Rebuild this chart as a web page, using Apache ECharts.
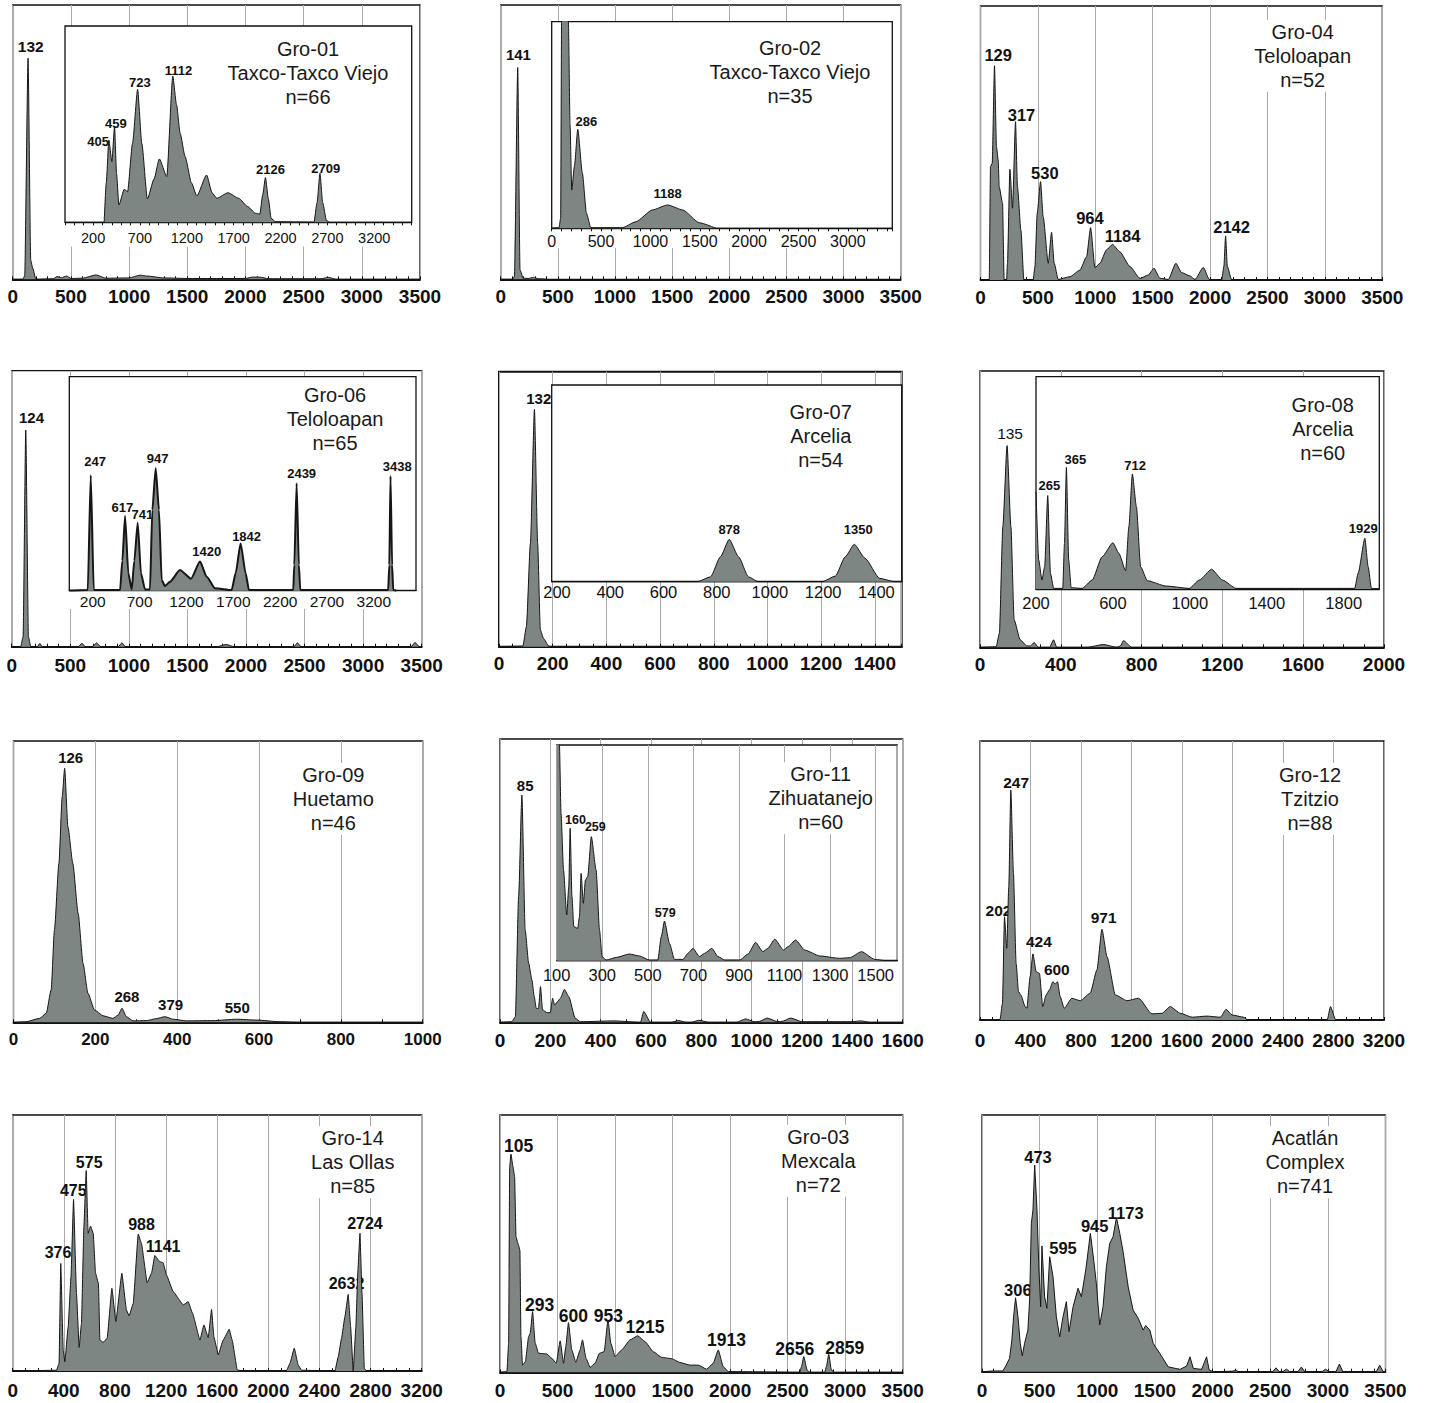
<!DOCTYPE html>
<html><head><meta charset="utf-8">
<script src="https://cdn.jsdelivr.net/npm/echarts@6/dist/echarts.min.js"></script>
<style>html,body{margin:0;padding:0;background:#fff}#c{width:1432px;height:1403px}</style>
</head><body><div id="c"></div>
<script>
// ---------------- DATA ----------------
// Gro-01
const g01Title = ['Gro-01', 'Taxco-Taxco Viejo', 'n=66'];
const g01Ticks = [0, 500, 1000, 1500, 2000, 2500, 3000, 3500];
const g01Curve = [[0,0],[86,0],[103,1.2],[132,80.6],[155,7],[172,4],[200,0],[350,0.2],[380,1],[420,0.6],[464,1.2],[500,0.3],[600,0.4],[716,1.6],[800,0.4],[1000,0.5],[1094,1.5],[1151,1.2],[1300,0.5],[1500,0.3],[2000,0.3],[2060,0.8],[2120,0.8],[2200,0.2],[2650,0.2],[2713,0.7],[2780,0],[3500,0]];
const g01Peaks = [[132,80.6,'132']];
const g01InsetTicks = [200, 700, 1200, 1700, 2200, 2700, 3200];
const g01InsetCurve = [[318,0],[340,20],[368,41.9],[400,30.9],[429,48.7],[450,25],[475,8.8],[532,16.8],[568,15.6],[620,40],[675,67.7],[720,40],[779,11.9],[850,22],[907,32.3],[986,23.3],[1050,74.5],[1090,60],[1129,45.3],[1182,33.4],[1250,20],[1307,13.4],[1411,24.1],[1470,15],[1521,12.2],[1639,15.1],[1754,12.2],[1850,8],[1932,4.6],[1979,4.2],[2010,14],[2039,22.8],[2070,12],[2100,2],[2146,0.3],[2557,0],[2590,10],[2621,25],[2650,10],[2690,1],[2718,0]];
const g01InsetPeaks = [[368,41.9,'405'],[429,48.7,'459'],[675,67.7,'723'],[1050,74.5,'1112'],[2039,22.8,'2126'],[2621,25,'2709']];
// Gro-02
const g02Title = ['Gro-02', 'Taxco-Taxco Viejo', 'n=35'];
const g02Ticks = [0, 500, 1000, 1500, 2000, 2500, 3000, 3500];
const g02Curve = [[0,0],[105,0],[120,1],[149,77.2],[169,3.4],[198,0.4],[240,0.3],[286,0.7],[330,0.2],[402,0]];
const g02Peaks = [[149,77.2,'141']];
const g02InsetTicks = [0, 500, 1000, 1500, 2000, 2500, 3000];
const g02InsetCurve = [[0,0],[74,0.3],[91,5],[100,100],[110,300],[160,300],[169,100],[186,50],[203,18.5],[230,30],[264,47.9],[311,26.6],[352,7.3],[396,0.3],[717,0.3],[852,3.2],[1021,8.9],[1174,11.3],[1326,8.9],[1495,2.7],[1664,0]];
const g02InsetPeaks = [[264,47.9,'286'],[1174,11.3,'1188']];
// Gro-04
const g04Title = ['Gro-04', 'Teloloapan', 'n=52'];
const g04Ticks = [0, 500, 1000, 1500, 2000, 2500, 3000, 3500];
const g04Curve = [[0,0],[76,0],[87,41.4],[102,42.6],[122,78.2],[139,48.7],[154,43.8],[163,34],[192,28],[206,0],[227,0],[235,6],[256,40.4],[279,26.2],[305,57.8],[322,34],[352,18.2],[378,0],[459,0],[474,4.9],[494,24.3],[523,35.9],[546,23.1],[590,6.1],[619,17.4],[642,6.1],[677,0.2],[779,1.2],[866,3.6],[924,8.5],[959,19.1],[997,4.5],[1040,6.1],[1098,11],[1150,13],[1214,10.3],[1302,4.9],[1389,0.6],[1461,1.8],[1511,4.3],[1563,0.6],[1636,0.2],[1702,6.1],[1752,2.7],[1824,1.5],[1868,0.2],[1941,4.6],[1993,0.2],[2101,0],[2120,5],[2135,16.1],[2150,5],[2188,0],[3500,0]];
const g04Peaks = [[122,78.2,'129'],[305,57.8,'317'],[523,35.9,'530'],[959,19.1,'964'],[1150,13,'1184'],[2135,16.1,'2142']];
// Gro-06
const g06Title = ['Gro-06', 'Teloloapan', 'n=65'];
const g06Ticks = [0, 500, 1000, 1500, 2000, 2500, 3000, 3500];
const g06Curve = [[0,0],[77,0],[97,3.6],[120,78.5],[143,3.6],[163,0],[220,0],[240,1.2],[260,0],[570,0],[599,1.2],[630,0],[690,0],[724,1.4],[760,0],[910,0],[941,1.4],[970,0],[1750,0],[1831,0.8],[1900,0],[2410,0],[2439,1.4],[2470,0],[3410,0],[3443,1.5],[3480,0],[3500,0]];
const g06Peaks = [[120,78.5,'124']];
const g06InsetTicks = [200, 700, 1200, 1700, 2200, 2700, 3200];
const g06InsetCurve = [[-50,0],[147,0.3],[179,54],[211,0.3],[492,0.3],[516,14],[545,34.9],[580,8.1],[616,0.6],[644,14],[680,31.8],[715,8.1],[758,0.6],[811,0.6],[836,37.7],[872,57.2],[907,37.7],[936,5],[971,2.2],[1025,4.2],[1131,9.7],[1249,5.6],[1345,13.6],[1416,6.5],[1505,1.1],[1682,0.3],[1725,8.1],[1778,22.1],[1832,8.1],[1867,0.3],[2340,0.3],[2351,12],[2376,50.2],[2400,12],[2415,0.3],[3353,0.3],[3365,12],[3378,53.6],[3395,12],[3407,0.3],[3442,0]];
const g06InsetPeaks = [[179,54,'247'],[545,34.9,'617'],[680,31.8,'741'],[872,57.2,'947'],[1345,13.6,'1420'],[1778,22.1,'1842'],[2376,50.2,'2439'],[3378,53.6,'3438']];
// Gro-07
const g07Title = ['Gro-07', 'Arcelia', 'n=54'];
const g07Ticks = [0, 200, 400, 600, 800, 1000, 1200, 1400];
const g07Curve = [[0,0],[89,0.2],[102,7.3],[117,37.6],[132,86.3],[144,37.6],[154,6.1],[166,3],[185,0.2],[200,0],[1500,0]];
const g07Peaks = [[132,86.3,'132']];
const g07InsetTicks = [200, 400, 600, 800, 1000, 1200, 1400];
const g07InsetCurve = [[180,0],[728,0],[777,2.5],[814,12.7],[847,21.5],[882,12.7],[919,2.5],[956,0],[1197,0],[1246,2.9],[1283,12.7],[1317,19],[1357,11.9],[1412,1.7],[1468,0],[1495,0]];
const g07InsetPeaks = [[847,21.5,'878'],[1317,19,'1350']];
// Gro-08
const g08Title = ['Gro-08', 'Arcelia', 'n=60'];
const g08Ticks = [0, 400, 800, 1200, 1600, 2000];
const g08Curve = [[0,0],[80,0.2],[96,5.1],[113,43.7],[134,73],[153,43.7],[169,9.9],[199,2.7],[232,0.5],[250,0.5],[268,1.7],[289,0],[345,0],[364,2.7],[380,0],[529,0],[612,1],[677,0],[695,0.5],[710,2.4],[751,0],[2000,0]];
const g08Peaks = [[134,73,'135']];
const g08InsetTicks = [200, 600, 1000, 1400, 1800];
const g08InsetCurve = [[200,45.8],[214,13.7],[231,4.2],[245,10.5],[261,44],[275,7.4],[292,0.3],[339,0.3],[348,21.5],[358,57.3],[370,13.7],[383,0.6],[440,0.3],[492,4.2],[544,15.2],[600,21.8],[631,16.8],[666,8.6],[683,29.4],[701,54.2],[722,38.8],[744,10.5],[779,3.9],[875,1.4],[997,0.3],[1049,4.2],[1113,9.3],[1170,4.2],[1240,0.3],[1857,0.3],[1875,7.4],[1910,23.9],[1927,10.5],[1944,0.3],[1985,0]];
const g08InsetPeaks = [[261,44,'265'],[358,57.3,'365'],[701,54.2,'712'],[1910,23.9,'1929']];
// Gro-09
const g09Title = ['Gro-09', 'Huetamo', 'n=46'];
const g09Ticks = [0, 200, 400, 600, 800, 1000];
const g09Curve = [[0,0],[31,0.2],[64,1.4],[80,3.2],[92,11.5],[100,32.8],[111,56.5],[119,80.2],[125,90.3],[133,69.5],[145,56.5],[158,38.7],[170,20.9],[182,10.3],[198,4.4],[219,2.3],[243,1.4],[256,2.6],[265,5],[276,2],[292,0.5],[325,0.6],[349,1.3],[370,2],[390,1.1],[423,0.5],[488,0.6],[545,1.1],[594,0.8],[651,0.2],[700,0],[1000,0]];
const g09Peaks = [[125,90.3,'126'],[265,5,'268'],[370,2,'379'],[545,1.1,'550']];
// Gro-11
const g11Title = ['Gro-11', 'Zihuatanejo', 'n=60'];
const g11Ticks = [0, 200, 400, 600, 800, 1000, 1200, 1400, 1600];
const g11Curve = [[0,0],[47,0.2],[61,2],[74,44.4],[87,80.2],[100,32.6],[114,20.8],[127,14.9],[136,9.1],[144,4.9],[153,4.9],[161,12.6],[169,4.4],[187,3.4],[200,3.4],[209,8.5],[217,6.1],[229,7.3],[240,8.5],[256,11.6],[273,9.1],[299,1.4],[319,0.2],[452,0.5],[558,0],[571,3.8],[598,0],[680,0],[710,0.6],[740,0],[760,0],[790,0.7],[830,0],[940,0],[976,1.2],[1010,0.2],[1030,0.3],[1062,1.5],[1100,0.3],[1120,0.3],[1155,1.5],[1200,0.2],[1400,0.2],[1433,0.5],[1470,0],[1600,0]];
const g11Peaks = [[87,80.2,'85']];
const g11InsetTicks = [100, 300, 500, 700, 900, 1100, 1300, 1500];
const g11InsetCurve = [[100,130],[112,100],[119,68.3],[130,42],[144,21.2],[153,34.3],[159,61.4],[167,29.7],[175,15.8],[192,15],[200,20.4],[207,40.5],[217,26.6],[226,37.4],[236,38.9],[252,57.5],[273,42],[288,14.2],[299,1.9],[317,0.3],[361,1.5],[419,3.1],[463,2.2],[507,0.3],[544,0.3],[559,11.1],[573,18.4],[595,8],[617,0.6],[654,0.6],[676,3.4],[698,5.7],[727,1.9],[749,3.4],[781,5.7],[808,1.9],[837,0.3],[903,0.3],[940,3.1],[973,8.5],[1005,4.2],[1027,5.7],[1057,10],[1096,4.9],[1115,6.5],[1149,9.6],[1189,4.9],[1255,2.2],[1342,1.1],[1386,1.4],[1438,4.2],[1496,0.6],[1548,0],[1595,0]];
const g11InsetPeaks = [[159,61.4,'160'],[252,57.5,'259'],[573,18.4,'579']];
// Gro-12
const g12Title = ['Gro-12', 'Tzitzio', 'n=88'];
const g12Ticks = [0, 400, 800, 1200, 1600, 2000, 2400, 2800, 3200];
const g12Curve = [[0,0],[159,0.2],[178,6],[194,37],[212,25.7],[228,47.8],[244,82.4],[265,52.6],[286,20.3],[305,10.2],[323,9],[358,4.8],[371,4.2],[397,15.5],[419,23.7],[445,17.3],[471,16.7],[497,4.8],[524,9],[550,10.8],[577,13.7],[595,12.9],[614,13.7],[635,8.4],[667,4.2],[728,7.8],[794,6.9],[873,9.6],[926,17.9],[966,32.5],[1006,22.7],[1072,9],[1164,6.9],[1256,7.8],[1362,2.2],[1441,2.4],[1507,4.8],[1587,2.4],[1680,1],[1798,1.4],[1904,1],[1949,3.8],[1997,1.8],[2089,1],[2121,0],[2750,0],[2776,4.8],[2816,0.2],[2840,0],[3200,0]];
const g12Peaks = [[194,37,'202'],[244,82.4,'247'],[419,23.7,'424'],[595,12.9,'600'],[966,32.5,'971']];
// Gro-14
const g14Title = ['Gro-14', 'Las Ollas', 'n=85'];
const g14Ticks = [0, 400, 800, 1200, 1600, 2000, 2400, 2800, 3200];
const g14Curve = [[0,0],[343,0.3],[363,3],[376,42],[395,8.2],[408,3.6],[434,17.3],[456,36.8],[476,67],[499,30.3],[520,9.2],[538,18.6],[557,56.4],[575,78.3],[590,53.8],[609,56.6],[630,53.8],[648,38.2],[671,34.2],[682,12.1],[708,11.2],[739,12.8],[776,32.3],[807,19.3],[854,38.2],[890,23.8],[911,21.5],[943,26.4],[982,53.5],[1007,49.9],[1052,34.5],[1086,38.2],[1112,45.1],[1151,42.7],[1177,42.3],[1203,37.5],[1256,31],[1334,25.8],[1373,27.1],[1407,22.5],[1465,12.1],[1496,18],[1530,13],[1556,24.1],[1574,13.4],[1608,6.3],[1647,12.1],[1694,16.3],[1717,12.1],[1757,0.4],[1804,0],[2143,0.2],[2169,3],[2203,8.9],[2234,2.3],[2260,0.3],[2521,0],[2547,5.6],[2573,12.8],[2599,21.2],[2625,29.9],[2644,17.3],[2664,0],[2685,17.3],[2701,39.5],[2717,53.8],[2733,30.3],[2751,1],[2769,0],[3200,0]];
const g14Peaks = [[376,42,'376'],[476,67,'475'],[575,78.3,'575'],[982,53.5,'988'],[1112,45.1,'1141'],[2625,29.9,'2632'],[2717,53.8,'2724']];
// Gro-03
const g03Title = ['Gro-03', 'Mexcala', 'n=72'];
const g03Ticks = [0, 500, 1000, 1500, 2000, 2500, 3000, 3500];
const g03Curve = [[0,0],[60,0.3],[75,11.3],[84,79.9],[95,84.8],[113,79.9],[127,76],[139,52.7],[156,50.1],[173,47.5],[182,13.9],[196,2.8],[220,4.1],[249,13.9],[263,15.2],[283,23.6],[306,11.3],[335,7.4],[408,7.1],[451,5.4],[489,3.5],[523,12.2],[552,3.5],[572,10],[595,19.3],[624,8.7],[659,3.9],[696,8.7],[717,12.6],[748,5.4],[783,1.9],[826,3.5],[864,7.4],[905,8],[939,20.3],[963,11.3],[1000,6.1],[1058,8.7],[1130,12.6],[1197,14.2],[1261,11.9],[1333,8],[1405,5.8],[1492,5.3],[1564,3.8],[1651,2.8],[1723,2.8],[1796,1.2],[1853,3.5],[1897,8.7],[1940,2.2],[1984,0.3],[2605,0],[2620,2.2],[2640,6.1],[2669,0.9],[2692,0],[2822,0],[2837,2.2],[2857,7],[2880,0.9],[2909,0],[3500,0]];
const g03Peaks = [[95,84.8,'105'],[283,23.6,'293'],[595,19.3,'600'],[939,20.3,'953'],[1197,14.2,'1215'],[1897,8.7,'1913'],[2640,6.1,'2656'],[2857,7,'2859']];
// Acatlán Complex
const acTitle = ['Acatlán', 'Complex', 'n=741'];
const acTicks = [0, 500, 1000, 1500, 2000, 2500, 3000, 3500];
const acCurve = [[0,0],[100,0.3],[181,0.3],[210,2.6],[239,5.2],[259,12.3],[274,21.4],[291,28.8],[312,21.4],[332,11],[349,6.2],[369,11],[398,16.2],[413,27.9],[428,57.8],[442,63],[457,80.5],[477,63],[494,39.6],[509,25.3],[520,49],[543,29.2],[563,24.7],[587,44.8],[616,37],[645,21.4],[674,13.6],[703,21.4],[732,27.3],[755,15.6],[790,25.3],[833,32.5],[862,29.2],[900,39.6],[940,53.9],[969,43.5],[992,34.4],[1021,18.2],[1050,25.3],[1079,40.9],[1108,50],[1137,52.6],[1166,60],[1195,53.9],[1224,46.8],[1268,33.1],[1311,24],[1355,20.8],[1398,16.2],[1420,18],[1456,16.2],[1485,11],[1543,7.1],[1615,1.9],[1717,0.9],[1775,2.2],[1804,5.8],[1833,1.3],[1905,0.9],[1948,5.8],[1971,0.6],[2006,0],[2170,0.2],[2200,0.5],[2230,0],[2520,0],[2550,1.5],[2580,0],[2610,0],[2640,1],[2670,0],[2740,0],[2770,1.8],[2800,0],[2950,0],[2980,1],[3010,0],[3070,0],[3100,3],[3130,0],[3420,0],[3450,2.5],[3480,0],[3500,0]];
const acPeaks = [[291,28.8,'306'],[457,80.5,'473'],[587,44.8,'595'],[940,53.9,'945'],[1166,60,'1173']];

// ---------------- STYLE (label pixel nudges, layout) ----------------
const INK = '#111111', LINE = '#161616', FILL = '#7e8683', GRIDC = '#aaaaaa';
const FONT = '"Liberation Sans", Arial, Helvetica, sans-serif';
const NARROW = '"Liberation Sans Narrow", "Liberation Sans", Arial, sans-serif';

const panels = [
  {box:[12.7,5,420,279.3], min:0,max:3500,step:500,minor:5, ticks:g01Ticks, curve:g01Curve, peaks:g01Peaks,
   nudge:[[2.7,-11.7]], peakFont:15.5, margin:8, title:g01Title, tpos:[308,49],
   inset:{box:[65,26,411.7,222.3], min:-100,max:3600,step:100, ticks:g01InsetTicks, tickMarks:true, split:false,
     curve:g01InsetCurve, peaks:g01InsetPeaks, nudge:[[-10.7,1],[1.3,-3.5],[2.3,-7],[5.7,-5.3],[5,-7.7],[5.7,-4.3]],
     peakFont:13, labelFont:14.5, margin:8, mask:246.5}},
  {box:[500.7,5,900.7,279.3], min:0,max:3500,step:500,minor:5, ticks:g02Ticks, curve:g02Curve, peaks:g02Peaks,
   nudge:[[0.7,-13.3]], peakFont:15, margin:8, title:g02Title, tpos:[790,47.7],
   inset:{box:[551.7,21.7,892.3,228.3], min:0,max:3450,step:100, ticks:g02InsetTicks, tickMarks:true, split:false,
     curve:g02InsetCurve, peaks:g02InsetPeaks, nudge:[[8.7,-7.7],[0,-11.7]], peakFont:13, labelFont:16, margin:5, mask:248}},
  {box:[980.5,6,1382.3,280], min:0,max:3500,step:500,minor:5, ticks:g04Ticks, curve:g04Curve, peaks:g04Peaks,
   nudge:[[3.7,-10.7],[6,-6.7],[4.3,-9],[-0.7,-9.3],[10,-8.7],[6,-9.3]], peakFont:16.5, margin:8, title:g04Title, tpos:[1302.7,31.7]},
  {box:[11.7,370.7,421.7,646.7], min:0,max:3500,step:500,minor:5, ticks:g06Ticks, curve:g06Curve, peaks:g06Peaks,
   nudge:[[5.7,-12.7]], peakFont:15, margin:9, title:g06Title, tpos:[335,395],
   inset:{box:[69.3,376.7,416,590.7], min:-50,max:3650,step:50, ticks:g06InsetTicks, tickMarks:false, split:false, lineWidth:2,
     curve:g06InsetCurve, peaks:g06InsetPeaks, nudge:[[4.3,-14],[-2.7,-8.3],[4.7,-7.7],[2,-9.3],[6.7,-10],[6,-6.7],[5,-10],[6.7,-9.3]],
     peakFont:13, labelFont:15.5, margin:3, mask:609}},
  {box:[499,371.7,901.7,646.7], min:0,max:1500,step:200,minor:4, ticks:g07Ticks, curve:g07Curve, peaks:g07Peaks, border:2,
   nudge:[[4.3,-11]], peakFont:15, margin:7, title:g07Title, tpos:[820.7,411.7],
   inset:{box:[551.7,385,901.7,581.7], min:180,max:1495,step:20, ticks:g07InsetTicks, tickMarks:false, split:false,
     curve:g07InsetCurve, peaks:g07InsetPeaks, nudge:[[0,-10.3],[4,-15.3]], peakFont:13, labelFont:16.5, margin:2}},
  {box:[980,371,1384,647.3], min:0,max:2000,step:400,minor:4, ticks:g08Ticks, curve:g08Curve, peaks:g08Peaks,
   nudge:[[3,-11.7]], peakFont:15.5, peakWeight:'normal', margin:8, title:g08Title, tpos:[1322.7,405],
   inset:{box:[1036,376.7,1379.3,589], min:200,max:1985,step:400, ticks:g08InsetTicks, tickMarks:false, split:false,
     curve:g08InsetCurve, peaks:g08InsetPeaks, nudge:[[1.7,-9.7],[9,-8.3],[2.7,-8.3],[-1.7,-9.3]], peakFont:13, labelFont:16.5, margin:5}},
  {box:[13.5,741,422.7,1022.3], min:0,max:1000,step:200,minor:2, ticks:g09Ticks, curve:g09Curve, peaks:g09Peaks,
   nudge:[[6,-11],[5,-11.7],[5.7,-11.7],[0.7,-11.7]], peakFont:15, margin:9, labelFont:17, labelFamily:NARROW, title:g09Title, tpos:[333.3,775]},
  {box:[500,739,902.7,1022.3], min:0,max:1600,step:200,minor:2, ticks:g11Ticks, curve:g11Curve, peaks:g11Peaks,
   nudge:[[3.3,-10]], peakFont:15, margin:9, title:g11Title, tpos:[820.7,774.3],
   inset:{box:[556.7,745,897.3,960.7], min:100,max:1595,step:200, ticks:g11InsetTicks, tickMarks:false, split:true,
     curve:g11InsetCurve, peaks:g11InsetPeaks, nudge:[[5.3,-8.3],[4,-9.3],[0.7,-7.7]], peakFont:12.5, labelFont:16.5, margin:6}},
  {box:[980,741,1384,1020], min:0,max:3200,step:400,minor:4, ticks:g12Ticks, curve:g12Curve, peaks:g12Peaks,
   nudge:[[-6,-6.7],[5.3,-7.3],[6,-12],[1.7,-15],[1.7,-11.7]], peakFont:15.5, margin:11, title:g12Title, tpos:[1310,775]},
  {box:[12.7,1115,421.7,1371], min:0,max:3200,step:400,minor:4, ticks:g14Ticks, curve:g14Curve, peaks:g14Peaks, smooth:0.1,
   nudge:[[-2.7,-10.7],[-0.3,-9.3],[3,-8],[3.3,-10],[8.3,-9],[-1.7,-11],[5,-9.3]], peakFont:16, margin:10, title:g14Title, tpos:[352.7,1138.3]},
  {box:[500,1115,902.7,1372.3], min:0,max:3500,step:500,minor:5, ticks:g03Ticks, curve:g03Curve, peaks:g03Peaks, smooth:0.15,
   nudge:[[7.7,-8],[7,-6.7],[5,-7],[0.3,-4.3],[7.3,-8.3],[8.3,-10],[-9,-7.7],[16,-6.7]], peakFont:17.5, margin:9, title:g03Title, tpos:[818.3,1136.7]},
  {box:[982,1115,1385.5,1371.7], min:0,max:3500,step:500,minor:5, ticks:acTicks, curve:acCurve, peaks:acPeaks, smooth:false,
   nudge:[[2.3,-7.7],[3.3,-8.3],[13.3,-8.3],[4.3,-7.7],[9.3,-5]], peakFont:16.5, margin:9, title:acTitle, tpos:[1305,1138.3]}
];

// ---------------- BUILD ----------------
function fmt(ticks) {
  return function (v) {
    for (const t of ticks) { if (Math.abs(t - v) < 1e-6) return String(t); }
    return '';
  };
}
const grids = [], xAxes = [], yAxes = [], series = [], graphics = [];

function addLayer(cfg, isInset, zb) {
  const b = cfg.box;
  const gi = grids.length;
  grids.push({left: b[0], top: b[1], width: b[2] - b[0], height: b[3] - b[1], show: true,
    borderColor: INK, borderWidth: cfg.border || 1.3, backgroundColor: isInset ? '#ffffff' : 'transparent',
    z: zb, containLabel: false, outerBoundsMode: 'none'});
  xAxes.push({gridIndex: gi, type: 'value', min: cfg.min, max: cfg.max, interval: cfg.step, z: zb + 1,
    axisLine: {show: true, onZero: false, lineStyle: {color: INK, width: isInset ? 1.3 : 1.8}},
    axisTick: {show: isInset ? !!cfg.tickMarks : true, inside: !isInset, length: 3, lineStyle: {color: INK, width: 1}},
    minorTick: {show: !isInset, splitNumber: cfg.minor || 2, length: 3, lineStyle: {color: INK, width: 1}},
    splitLine: {show: isInset ? !!cfg.split : true, lineStyle: {color: GRIDC, width: 1}},
    minorSplitLine: {show: false},
    axisLabel: {show: true, formatter: fmt(cfg.ticks), fontFamily: cfg.labelFamily || FONT,
      fontWeight: isInset ? 'normal' : 'bold', fontSize: cfg.labelFont || 19, color: INK,
      margin: cfg.margin, hideOverlap: false}
  });
  yAxes.push({gridIndex: gi, type: 'value', min: 0, max: 100, show: false});
  series.push({type: 'scatter', xAxisIndex: gi, yAxisIndex: gi, symbolSize: 1, silent: true, animation: false,
    itemStyle: {color: 'rgba(0,0,0,0)', opacity: 1}, z: zb + 2,
    data: cfg.peaks.map((q, j) => ({value: [q[0], q[1]], name: q[2], label: {offset: cfg.nudge[j] || [0, -10]}})),
    label: {show: true, position: 'inside', formatter: '{b}', fontFamily: FONT, opacity: 1,
      fontWeight: cfg.peakWeight || 'bold', fontSize: cfg.peakFont, color: INK,
      textBorderWidth: 0, textBorderColor: 'transparent', textShadowBlur: 0}});
  series.push({type: 'line', xAxisIndex: gi, yAxisIndex: gi, data: cfg.curve, symbol: 'none', showSymbol: false,
    smooth: cfg.smooth === undefined ? 0.2 : cfg.smooth, smoothMonotone: 'x', silent: true, animation: false,
    lineStyle: {color: LINE, width: cfg.lineWidth || 1}, areaStyle: {color: FILL, opacity: 1}, z: zb + 3});
  if (isInset && cfg.mask) {
    graphics.push({type: 'rect', silent: true, z: zb,
      shape: {x: b[0] - 1, y: b[3], width: b[2] - b[0] + 2, height: cfg.mask - b[3]}, style: {fill: '#ffffff'}});
  }
}

panels.forEach(p => {
  addLayer(p, false, 0);
  if (p.inset) addLayer(p.inset, true, 10);
  graphics.push({type: 'text', z: 30, silent: true, x: p.tpos[0], y: p.tpos[1] - 12,
    style: {text: p.title.join('\n'), align: 'center', verticalAlign: 'top', fontFamily: FONT,
      fontSize: 20, lineHeight: 24, fill: '#1a1a1a', backgroundColor: '#ffffff', padding: [0, 2]}});
});

const chart = echarts.init(document.getElementById('c'), null, {renderer: 'svg', width: 1432, height: 1403});
chart.setOption({
  animation: false,
  backgroundColor: '#ffffff',
  grid: grids, xAxis: xAxes, yAxis: yAxes, series: series,
  graphic: {elements: graphics}
});
</script></body></html>
